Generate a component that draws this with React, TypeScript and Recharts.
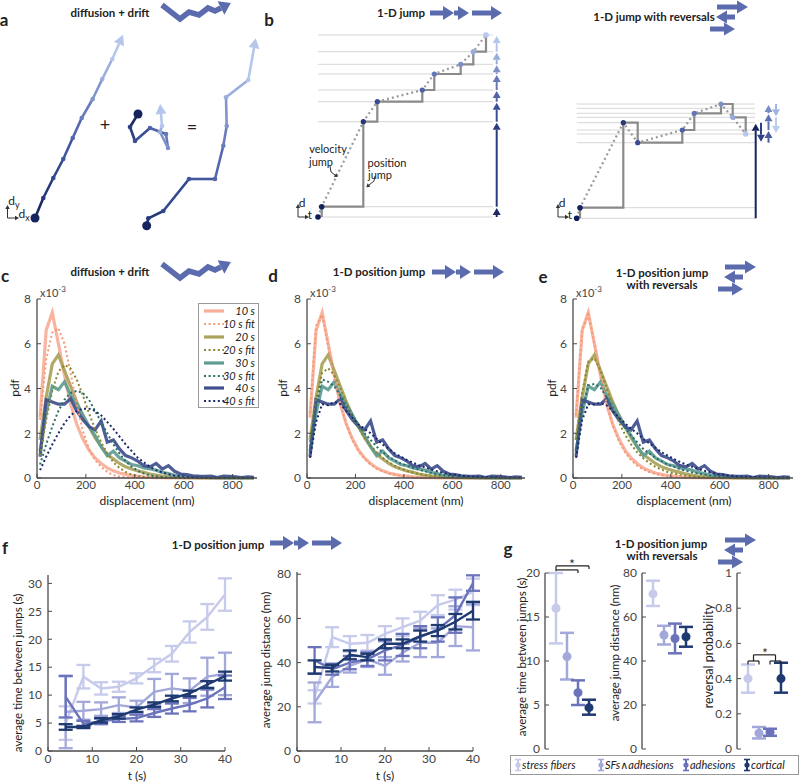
import React from 'react';
import { LineChart, Line, XAxis, YAxis, ErrorBar, ScatterChart, Scatter, ReferenceLine } from 'recharts';

const FONT = 'Lato, "Open Sans", "DejaVu Sans", sans-serif';

// ---------------- panel c/d/e : displacement pdf (x1e-3) ----------------
const BINS = [12.5, 37.5, 62.5, 87.5, 112.5, 137.5, 162.5, 187.5, 212.5, 237.5, 262.5, 287.5, 312.5, 337.5, 362.5, 387.5, 412.5, 437.5, 462.5, 487.5, 512.5, 537.5, 562.5, 587.5, 612.5, 637.5, 662.5, 687.5, 712.5, 737.5, 762.5, 787.5, 812.5, 837.5, 862.5, 887.5];
const S10 = [2.7, 6.6, 7.4, 6.0, 4.6, 3.3, 2.4, 1.75, 1.25, 0.9, 0.65, 0.45, 0.32, 0.22, 0.16, 0.11, 0.08, 0.05, 0.03, 0.02, 0.02, 0.01, 0.01, 0.01, 0, 0, 0, 0, 0, 0, 0, 0, 0, 0, 0, 0];
const S20 = [1.7, 3.6, 5.1, 5.5, 4.8, 4.1, 3.4, 2.8, 2.3, 1.8, 1.4, 1.05, 0.85, 0.65, 0.5, 0.4, 0.32, 0.25, 0.18, 0.13, 0.09, 0.06, 0.04, 0.03, 0.02, 0.02, 0.01, 0.01, 0.01, 0, 0, 0, 0, 0, 0, 0];
const S30 = [1.2, 2.9, 4.1, 3.95, 4.3, 3.7, 3.3, 2.8, 2.3, 1.9, 1.4, 1.0, 1.2, 0.9, 0.75, 0.6, 0.55, 0.45, 0.4, 0.35, 0.25, 0.2, 0.12, 0.1, 0.06, 0.05, 0.03, 0.03, 0.02, 0.02, 0.01, 0.01, 0.01, 0, 0, 0];
const S40 = [0.95, 3.5, 3.4, 3.3, 3.3, 3.55, 3.0, 2.6, 2.3, 2.15, 2.55, 1.6, 1.7, 1.3, 1.0, 0.9, 0.75, 0.55, 0.5, 0.65, 0.4, 0.55, 0.3, 0.18, 0.15, 0.1, 0.08, 0.07, 0.08, 0.02, 0.08, 0.07, 0.05, 0.02, 0.05, 0.03];

const CF10 = [2.6, 5.3, 6.5, 6.7, 6.0, 4.7, 3.3, 2.1, 1.3, 0.8, 0.5, 0.27, 0.13, 0.06, 0.03, 0.01, 0, 0, 0, 0, 0, 0, 0, 0, 0, 0, 0, 0, 0, 0, 0, 0, 0, 0, 0, 0];
const CF20 = [1.0, 2.6, 3.9, 4.75, 5.05, 4.9, 4.4, 3.7, 2.9, 2.2, 1.6, 1.1, 0.7, 0.45, 0.27, 0.15, 0.08, 0.04, 0.02, 0.01, 0, 0, 0, 0, 0, 0, 0, 0, 0, 0, 0, 0, 0, 0, 0, 0];
const CF30 = [0.6, 1.5, 2.3, 3.0, 3.5, 3.8, 3.9, 3.8, 3.5, 3.0, 2.5, 2.0, 1.5, 1.1, 0.75, 0.5, 0.32, 0.2, 0.12, 0.07, 0.04, 0.02, 0.01, 0, 0, 0, 0, 0, 0, 0, 0, 0, 0, 0, 0, 0];
const CF40 = [0.35, 0.95, 1.5, 2.0, 2.45, 2.8, 3.0, 3.1, 3.1, 3.0, 2.8, 2.5, 2.2, 1.85, 1.5, 1.2, 0.9, 0.7, 0.5, 0.35, 0.25, 0.17, 0.1, 0.07, 0.04, 0.02, 0.01, 0, 0, 0, 0, 0, 0, 0, 0, 0];

const DF10 = [2.9, 6.8, 7.3, 5.9, 4.5, 3.3, 2.4, 1.7, 1.2, 0.85, 0.6, 0.42, 0.3, 0.2, 0.14, 0.1, 0.07, 0.05, 0.03, 0.02, 0.01, 0.01, 0, 0, 0, 0, 0, 0, 0, 0, 0, 0, 0, 0, 0, 0];
const DF20 = [1.6, 3.5, 4.7, 4.9, 4.6, 4.0, 3.35, 2.75, 2.25, 1.8, 1.45, 1.15, 0.9, 0.7, 0.55, 0.42, 0.32, 0.25, 0.18, 0.13, 0.1, 0.07, 0.05, 0.03, 0.02, 0.01, 0.01, 0, 0, 0, 0, 0, 0, 0, 0, 0];
const DF30 = [1.4, 3.2, 4.4, 4.3, 4.1, 3.7, 3.2, 2.8, 2.4, 2.0, 1.7, 1.4, 1.15, 0.95, 0.8, 0.65, 0.55, 0.45, 0.37, 0.3, 0.23, 0.17, 0.13, 0.1, 0.07, 0.05, 0.04, 0.03, 0.02, 0.01, 0.01, 0, 0, 0, 0, 0];
const DF40 = [0.9, 2.5, 3.3, 3.25, 3.4, 3.3, 3.0, 2.7, 2.4, 2.2, 2.0, 1.75, 1.5, 1.3, 1.1, 0.95, 0.8, 0.68, 0.57, 0.47, 0.38, 0.3, 0.23, 0.18, 0.14, 0.11, 0.08, 0.06, 0.05, 0.04, 0.03, 0.03, 0.02, 0.02, 0.01, 0.01];

const EF10 = [2.8, 6.6, 7.3, 6.0, 4.6, 3.3, 2.35, 1.65, 1.15, 0.8, 0.55, 0.38, 0.26, 0.18, 0.12, 0.08, 0.05, 0.03, 0.02, 0.01, 0, 0, 0, 0, 0, 0, 0, 0, 0, 0, 0, 0, 0, 0, 0, 0];
const EF20 = [1.7, 3.8, 5.2, 5.35, 4.8, 4.0, 3.2, 2.5, 1.95, 1.5, 1.15, 0.88, 0.66, 0.5, 0.37, 0.27, 0.2, 0.14, 0.1, 0.07, 0.05, 0.03, 0.02, 0.01, 0, 0, 0, 0, 0, 0, 0, 0, 0, 0, 0, 0];
const EF30 = [1.3, 3.0, 4.15, 4.2, 4.05, 3.6, 3.1, 2.65, 2.25, 1.9, 1.6, 1.3, 1.1, 0.9, 0.75, 0.6, 0.5, 0.4, 0.32, 0.25, 0.2, 0.15, 0.11, 0.08, 0.06, 0.04, 0.03, 0.02, 0.01, 0, 0, 0, 0, 0, 0, 0];
const EF40 = [0.9, 2.6, 3.3, 3.3, 3.35, 3.25, 3.0, 2.7, 2.45, 2.2, 2.0, 1.75, 1.55, 1.35, 1.15, 1.0, 0.85, 0.72, 0.6, 0.5, 0.4, 0.32, 0.25, 0.19, 0.15, 0.11, 0.08, 0.06, 0.05, 0.04, 0.03, 0.02, 0.02, 0.01, 0.01, 0.01];

const PDF_X_TICKS = [0, 200, 400, 600, 800];
const PDF_Y_TICKS = [0, 2, 4, 6, 8];

const DATA_SERIES = [
  { k: 's10', label: '10 s', c: '#F8AE98' },
  { k: 's20', label: '20 s', c: '#A9A35B' },
  { k: 's30', label: '30 s', c: '#5F9C92' },
  { k: 's40', label: '40 s', c: '#3F4F8D' },
];
const FIT_SERIES = [
  { k: 'f10', label: '10 s fit', c: '#F59A78' },
  { k: 'f20', label: '20 s fit', c: '#8C872E' },
  { k: 'f30', label: '30 s fit', c: '#2B6F67' },
  { k: 'f40', label: '40 s fit', c: '#1A2A6A' },
];

// ---------------- panel f ----------------
const T = [4, 8, 12, 16, 20, 24, 28, 32, 36, 40];
const SF_T = [5.0, 13.3, 11.2, 11.5, 13.0, 15.3, 17.4, 21.3, 24.0, 28.0];
const SF_TE = [3.0, 2.1, 1.1, 0.9, 0.9, 1.2, 1.4, 1.9, 2.3, 2.9];
const SA_T = [7.0, 7.2, 7.5, 8.2, 7.8, 10.6, 11.2, 10.8, 13.3, 13.8];
const SA_TE = [6.5, 1.6, 1.2, 1.4, 1.2, 2.3, 2.6, 2.2, 3.4, 3.8];
const AD_T = [9.7, 4.9, 5.3, 5.7, 5.9, 6.8, 7.6, 8.3, 9.4, 11.4];
const AD_TE = [3.7, 0.5, 0.5, 0.5, 0.6, 0.7, 0.9, 1.2, 1.6, 2.1];
const CO_T = [4.3, 4.3, 5.5, 6.2, 7.4, 8.3, 9.4, 10.3, 11.9, 13.4];
const CO_TE = [0.5, 0.2, 0.4, 0.4, 0.4, 0.4, 0.5, 0.5, 0.6, 0.8];

const SF_D = [24.5, 51.5, 48.5, 49, 53, 56, 59, 66, 68.5, 72];
const SF_DE = [3, 4.5, 3.5, 3.5, 3.5, 4, 4, 4.5, 4.5, 6];
const SA_D = [22, 33.5, 38.5, 41.5, 38.5, 44.5, 49, 49, 56.5, 56];
const SA_DE = [9, 4.5, 3, 3.5, 4, 4, 6.5, 6.5, 9, 10.5];
const AD_D = [41, 37, 40, 41.5, 45.5, 48, 51.5, 55, 61.5, 76];
const AD_DE = [6, 2.5, 3, 3, 4.5, 5, 5, 5.5, 8, 3.5];
const CO_D = [38, 37.5, 43.5, 42.5, 48.5, 48.5, 52, 54.5, 58.5, 63.5];
const CO_DE = [3, 1.5, 2, 1.5, 2, 2, 2.5, 2.5, 3.5, 4];

// ---------------- panel g ----------------
const GROUPS = ['stress fibers', 'SFs\u2227adhesions', 'adhesions', 'cortical'];
const GCOL = ['#C6CAEB', '#A3A8DA', '#6B74BB', '#1E3A70'];
const G_TIME = [16, 10.5, 6.4, 4.7];
const G_TIME_E = [[4, 4], [2.6, 2.7], [1.4, 1.4], [0.8, 0.9]];
const G_DIST = [70.5, 51.8, 50.2, 51];
const G_DIST_E = [[5.5, 6], [4.3, 4.2], [6.7, 6.8], [4.5, 4.5]];
const G_REV = [0.4, 0.09, 0.095, 0.4];
const G_REV_E = [[0.08, 0.08], [0.03, 0.035], [0.02, 0.02], [0.08, 0.09]];

// ---------------- schematics (panels a, b) ----------------
const NAVY = '#15245E';
const GRAD9 = ['#1B2A63', '#26387A', '#33478E', '#42569E', '#5466AC', '#6A7CBC', '#8294CB', '#9BADDB', '#B5C6EC'];
const GRAD8 = ['#1B2A63', '#2A3C80', '#3C4F96', '#5062A8', '#6678B8', '#7F91C9', '#9AACDA', '#B5C6EC'];
const A_DRIFT = [[35, 218], [43.3, 198], [53.3, 178], [63.3, 159], [72.7, 138], [81.7, 118], [92.7, 99], [102.3, 79], [112.3, 59], [119, 44]];
const A_WALK = [[138, 114], [130, 127], [135, 141], [150, 128], [166, 134], [168, 148], [160, 132], [162, 126], [161, 114]];
const A_SUM = [[146.7, 225.7], [148.3, 218.3], [163.3, 211], [189, 179], [215, 179], [223.3, 145.7], [226.7, 126], [226, 97.3], [248.3, 80], [254, 48]];

const BL_LEVELS = [35, 51.7, 64.3, 74, 90, 101.7, 121.7, 206.7, 217];
const BL_STAIR = [[321.7, 217], [321.7, 206.7], [363.3, 206.7], [363.3, 121.7], [377.3, 121.7], [377.3, 101.7], [422.3, 101.7], [422.3, 90], [434.3, 90], [434.3, 74], [460.7, 74], [460.7, 64.3], [473.3, 64.3], [473.3, 51.7], [486, 51.7], [486, 35]];
const BL_VEL = [[318, 217], [321.7, 206.7], [363.3, 121.7], [377.3, 101.7], [422.3, 90], [434.3, 74], [460.7, 64.3], [473.3, 51.7], [486, 35]];
const BL_COLUMN = [
  [[496.7, 217], [496.7, 215]], [[496.7, 206.7], [496.7, 129.7]], [[496.7, 121.7], [496.7, 109.7]], [[496.7, 101.7], [496.7, 98]],
  [[496.7, 90], [496.7, 82]], [[496.7, 74], [496.7, 72.3]], [[496.7, 64.3], [496.7, 59.7]], [[496.7, 51.7], [496.7, 43]],
];
const BR_LEVELS = [104, 108.3, 113.3, 117.3, 122.7, 130, 134, 142.7, 207.7, 218.3];
const BR_STAIR = [[580, 218.3], [580, 207.7], [623.3, 207.7], [623.3, 122.7], [637.7, 122.7], [637.7, 142.7], [682.3, 142.7], [682.3, 130], [694.3, 130], [694.3, 113.3], [721, 113.3], [721, 104], [732.7, 104], [732.7, 117.3], [745.7, 117.3], [745.7, 134]];
const BR_VEL = [[576.7, 218.3], [580, 207.7], [623.3, 122.7], [637.7, 142.7], [682.3, 130], [694.3, 113.3], [721, 104], [732.7, 117.3], [745.7, 134]];
const BR_COLUMN = [
  [[755.7, 218.3], [755.7, 130.7]], [[761, 122.7], [761, 134.7]], [[768.5, 142.7], [768.5, 138]], [[768.5, 130], [768.5, 121.3]],
  [[768.5, 113.3], [768.5, 112]], [[776, 104], [776, 109.3]], [[776, 117.3], [776, 126]],
];
const BR_COLS = ['#15245E', '#2F4185', '#4A5C9E', '#5F72B0', '#7A8CC4', '#A0B2E2', '#BCCBF0'];

// icons (local coordinates)
const ICON = '#5B6BAE';
const ZIG = [[2, 5], [20, 19], [29, 12], [39, 15], [48, 8], [55, 11], [61, 8]];
const TRIPLE = [[[2, 10], [15, 10]], [[26, 10], [30, 10]], [[44, 10], [63, 10]]];
const REVERSAL = [[[12, 7], [32, 7]], [[30, 17], [22, 17]], [[5, 29], [19, 29]]];

type P = { pts: number[][]; c: string; w?: number; dash?: string; head?: number[]; dc?: string[]; dr?: number[]; cap?: string };

const dotRenderer = (p: P) => (props: any) => {
  const { cx, cy, index } = props;
  const k = `d${index}`;
  if (cx == null || cy == null) return <g key={k} />;
  const n = p.pts.length;
  if (p.head && index === n - 1) {
    const [x0, y0] = p.pts[n - 2];
    const [x1, y1] = p.pts[n - 1];
    const len = Math.hypot(x1 - x0, y1 - y0) || 1;
    const ux = (x1 - x0) / len, uy = (y1 - y0) / len;
    const [L, W] = p.head;
    const pts = `${cx + ux * L},${cy + uy * L} ${cx - uy * W},${cy + ux * W} ${cx + uy * W},${cy - ux * W}`;
    return <polygon key={k} points={pts} fill={p.c} />;
  }
  if (p.dc && p.dc[index] && p.dr && p.dr[index]) {
    return <circle key={k} cx={cx} cy={cy} r={p.dr[index]} fill={p.dc[index]} />;
  }
  return <g key={k} />;
};

function Sketch({ left, top, width, height, paths }: { left: number; top: number; width: number; height: number; paths: P[] }) {
  return (
    <div style={{ position: 'absolute', left, top }}>
      <LineChart width={width} height={height} margin={{ top: 0, right: 0, bottom: 0, left: 0 }}>
        <XAxis type="number" dataKey="x" domain={[0, width]} hide />
        <YAxis type="number" domain={[0, height]} reversed hide />
        {paths.map((p, i) => (
          <Line
            key={i}
            data={p.pts.map(([x, y]) => ({ x, y }))}
            dataKey="y"
            type="linear"
            stroke={p.c}
            strokeWidth={p.w ?? 2}
            strokeDasharray={p.dash}
            strokeLinecap={(p.cap as any) ?? 'butt'}
            strokeLinejoin="miter"
            dot={dotRenderer(p)}
            activeDot={false}
            isAnimationActive={false}
            legendType="none"
          />
        ))}
      </LineChart>
    </div>
  );
}

const segPaths = (pts: number[][], cols: string[], w: number, startR: number): P[] =>
  pts.slice(0, -1).map((pt, k) => ({
    pts: [pt, pts[k + 1]],
    c: cols[k],
    w,
    head: k === pts.length - 2 ? [10, 5.5] : undefined,
    dc: [k === 0 ? NAVY : cols[k]],
    dr: [k === 0 ? startR : 2.3],
  }));

const TOP_PATHS: P[] = [
  ...segPaths(A_DRIFT, GRAD9, 2.6, 4.5),
  ...segPaths(A_WALK, GRAD8, 2.6, 4.5),
  ...segPaths(A_SUM, GRAD9, 2.6, 4.5),
  { pts: [[7.5, 218], [7.5, 209]], c: '#333', w: 1, head: [4, 2.2] },
  { pts: [[7.5, 218], [15, 218]], c: '#333', w: 1, head: [4, 2.2] },
  ...BL_LEVELS.map((y) => ({ pts: [[318, y], [493, y]], c: '#D6D6D6', w: 1 })),
  { pts: BL_STAIR, c: '#8A8A8A', w: 2.2 },
  { pts: BL_VEL, c: '#9A9A9A', w: 2.2, dash: '2 3', dc: ['#0E1D58', NAVY, '#26387A', '#3A4C95', '#4E60A6', '#6476B8', '#7C8ECA', '#99ABDD', '#B9C8F0'], dr: [2.8, 2.8, 2.6, 2.6, 2.6, 2.6, 2.6, 2.6, 2.8] },
  ...BL_COLUMN.map((pts, i) => ({ pts, c: GRAD8[i], w: 2, head: [7, 4] })),
  { pts: [[298, 217], [298, 208]], c: '#333', w: 1, head: [4, 2.2] },
  { pts: [[298, 217], [305, 217]], c: '#333', w: 1, head: [4, 2.2] },
  { pts: [[330, 166], [331, 172], [335, 175]], c: '#333', w: 1, head: [3.5, 2.2] },
  { pts: [[375, 176], [374, 181], [369, 185]], c: '#333', w: 1, head: [3.5, 2.2] },
  ...BR_LEVELS.map((y) => ({ pts: [[576.7, y], [755, y]], c: '#D6D6D6', w: 1 })),
  { pts: BR_STAIR, c: '#8A8A8A', w: 2.2 },
  { pts: BR_VEL, c: '#9A9A9A', w: 2.2, dash: '2 3', dc: ['#0E1D58', NAVY, '#26387A', '#3A4C95', '#4E60A6', '#6476B8', '#7C8ECA', '#99ABDD', '#B9C8F0'], dr: [2.8, 2.8, 2.6, 2.6, 2.6, 2.6, 2.6, 2.6, 2.8] },
  ...BR_COLUMN.map((pts, i) => ({ pts, c: BR_COLS[i], w: 2, head: [7, 4] })),
  { pts: [[558, 217], [558, 208]], c: '#333', w: 1, head: [4, 2.2] },
  { pts: [[558, 217], [565, 217]], c: '#333', w: 1, head: [4, 2.2] },
];

const zigPaths: P[] = [{ pts: ZIG, c: ICON, w: 5.5, head: [11, 7.5] }];
const triplePaths: P[] = TRIPLE.map((pts) => ({ pts, c: ICON, w: 5, head: [11, 7] }));
const reversalPaths: P[] = REVERSAL.map((pts) => ({ pts, c: ICON, w: 5, head: [11, 6.5] }));

// ---------------- shared axis styling ----------------
const AX = '#4A4A4A';
const tickStyle = { fill: '#444', fontSize: 11.5, fontFamily: FONT };
const xAxisProps = { axisLine: { stroke: AX, strokeWidth: 1.3 }, tickLine: { stroke: AX }, tick: tickStyle, tickSize: -4, tickMargin: 7 } as any;
const yAxisProps = { axisLine: { stroke: AX, strokeWidth: 1.3 }, tickLine: { stroke: AX }, tick: tickStyle, tickSize: -4, tickMargin: 10 } as any;

function PdfChart({ left, width, ml, mr, fits }: { left: number; width: number; ml: number; mr: number; fits: number[][] }) {
  const rows = BINS.map((x, i) => ({
    x, s10: S10[i], s20: S20[i], s30: S30[i], s40: S40[i],
    f10: fits[0][i], f20: fits[1][i], f30: fits[2][i], f40: fits[3][i],
  }));
  return (
    <div style={{ position: 'absolute', left, top: 280 }}>
      <LineChart width={width} height={240} data={rows} margin={{ top: 19, right: mr, bottom: 12, left: ml }}>
        <XAxis type="number" dataKey="x" domain={[0, 900]} ticks={PDF_X_TICKS} height={30} {...xAxisProps} />
        <YAxis type="number" domain={[0, 8]} ticks={PDF_Y_TICKS} width={27} {...yAxisProps} tick={{ ...tickStyle, fontSize: 12 }} />
        {DATA_SERIES.map((s) => (
          <Line key={s.k} dataKey={s.k} stroke={s.c} strokeWidth={3.2} strokeOpacity={0.92} dot={false} activeDot={false} isAnimationActive={false} type="linear" />
        ))}
        {FIT_SERIES.map((s) => (
          <Line key={s.k} dataKey={s.k} stroke={s.c} strokeWidth={2} strokeDasharray="2 2.6" dot={false} activeDot={false} isAnimationActive={false} type="linear" />
        ))}
      </LineChart>
    </div>
  );
}

const F_KEYS = [
  { k: 'sf', c: GCOL[0] },
  { k: 'sa', c: GCOL[1] },
  { k: 'ad', c: GCOL[2] },
  { k: 'co', c: GCOL[3] },
];

function FChart({ left, width, ml, mr, mt, domain, ticks, vals, errs }: any) {
  const rows = T.map((t, i) => ({
    t,
    sf: vals[0][i], sfE: errs[0][i],
    sa: vals[1][i], saE: errs[1][i],
    ad: vals[2][i], adE: errs[2][i],
    co: vals[3][i], coE: errs[3][i],
  }));
  return (
    <div style={{ position: 'absolute', left, top: 560 }}>
      <LineChart width={width} height={223} data={rows} margin={{ top: mt, right: mr, bottom: 7, left: ml }}>
        <XAxis type="number" dataKey="t" domain={[0, 40]} ticks={[0, 10, 20, 30, 40]} height={25} {...xAxisProps} tick={{ ...tickStyle, fontSize: 12 }} />
        <YAxis type="number" domain={domain} ticks={ticks} width={30} {...yAxisProps} tick={{ ...tickStyle, fontSize: 12 }} />
        {F_KEYS.map((s) => (
          <Line key={s.k} dataKey={s.k} stroke={s.c} strokeWidth={2.4} dot={false} activeDot={false} isAnimationActive={false} type="linear">
            <ErrorBar dataKey={`${s.k}E`} direction="y" width={7} strokeWidth={2.3} stroke={s.c} />
          </Line>
        ))}
      </LineChart>
    </div>
  );
}

function GChart({ left, width, ml, mr, domain, ticks, vals, errs, children }: any) {
  return (
    <div style={{ position: 'absolute', left, top: 560 }}>
      <ScatterChart width={width} height={200} margin={{ top: 13, right: mr, bottom: 11, left: ml }}>
        <XAxis type="number" dataKey="x" domain={[0, 5]} hide />
        <YAxis type="number" dataKey="y" domain={domain} ticks={ticks} width={30} {...yAxisProps} tickMargin={9} tick={{ ...tickStyle, fontSize: 12 }} />
        {GROUPS.map((g, i) => (
          <Scatter key={g} data={[{ x: i + 1, y: vals[i], e: errs[i] }]} fill={GCOL[i]} isAnimationActive={false}>
            <ErrorBar dataKey="e" direction="y" width={7} strokeWidth={2.5} stroke={GCOL[i]} />
          </Scatter>
        ))}
        {children}
      </ScatterChart>
    </div>
  );
}

const BR = { stroke: '#222', strokeWidth: 1.2, ifOverflow: 'visible' as const };

function Txt({ x, y, s = 12, b = false, i = false, r = false, c = '#222', children }: any) {
  return (
    <div style={{
      position: 'absolute', left: x, top: y,
      transform: `translate(-50%,-50%)${r ? ' rotate(-90deg)' : ''}`,
      fontFamily: FONT, fontSize: s, fontWeight: b ? 700 : 400, fontStyle: i ? 'italic' : 'normal',
      color: c, whiteSpace: 'nowrap', lineHeight: 1,
    }}>{children}</div>
  );
}

const X10 = () => <span>x10<sup style={{ fontSize: 8, verticalAlign: 'top', position: 'relative', top: -2 }}>-3</sup></span>;

function GLegendGlyph({ c }: { c: string }) {
  return (
    <svg width={8} height={14} style={{ position: 'absolute', left: 0, top: 2 }}>
      <line x1={4} y1={1} x2={4} y2={13} stroke={c} strokeWidth={2} />
      <line x1={1} y1={1.5} x2={7} y2={1.5} stroke={c} strokeWidth={1.6} />
      <line x1={1} y1={12.5} x2={7} y2={12.5} stroke={c} strokeWidth={1.6} />
      <circle cx={4} cy={7} r={2.6} fill={c} />
    </svg>
  );
}

export default function App() {
  const legItems = [DATA_SERIES[0], FIT_SERIES[0], DATA_SERIES[1], FIT_SERIES[1], DATA_SERIES[2], FIT_SERIES[2], DATA_SERIES[3], FIT_SERIES[3]];
  const gLeg = [{ x: 514, tx: 522 }, { x: 597, tx: 605 }, { x: 682, tx: 690 }, { x: 743, tx: 751 }];
  return (
    <div style={{ position: 'absolute', left: 0, top: 0, width: 800, height: 783, background: '#fff', overflow: 'hidden', fontFamily: FONT }}>
      {/* schematics */}
      <Sketch left={0} top={0} width={800} height={232} paths={TOP_PATHS} />
      <Sketch left={160} top={0} width={80} height={28} paths={zigPaths} />
      <Sketch left={428} top={3} width={80} height={22} paths={triplePaths} />
      <Sketch left={705} top={0} width={55} height={38} paths={reversalPaths} />
      <Sketch left={160} top={259} width={80} height={28} paths={zigPaths} />
      <Sketch left={430} top={262} width={80} height={22} paths={triplePaths} />
      <Sketch left={713} top={260} width={55} height={38} paths={reversalPaths} />
      <Sketch left={268} top={533} width={80} height={22} paths={triplePaths} />
      <Sketch left={713} top={533} width={55} height={38} paths={reversalPaths} />

      {/* pdf panels */}
      <PdfChart left={0} width={270} ml={10} mr={13} fits={[CF10, CF20, CF30, CF40]} />
      <PdfChart left={270} width={270} ml={10} mr={15} fits={[DF10, DF20, DF30, DF40]} />
      <PdfChart left={540} width={260} ml={6} mr={7} fits={[EF10, EF20, EF30, EF40]} />

      {/* legend c */}
      <div style={{ position: 'absolute', left: 198, top: 303, width: 59, height: 103, border: '1px solid #999', background: '#fff' }}>
        {legItems.map((e, i) => (
          <div key={e.k} style={{ position: 'absolute', left: 0, top: 1 + i * 12.9, width: 59, height: 13 }}>
            <svg width={22} height={12} style={{ position: 'absolute', left: 4, top: 0 }}>
              <line x1={1} y1={6} x2={21} y2={6} stroke={e.c} strokeWidth={e.k.startsWith('f') ? 2 : 3.2} strokeDasharray={e.k.startsWith('f') ? '2 2.6' : undefined} />
            </svg>
            <span style={{ position: 'absolute', right: 3, top: 0, fontSize: 11, fontStyle: 'italic', fontFamily: FONT, color: '#222', whiteSpace: 'nowrap', lineHeight: '12px' }}>{e.label}</span>
          </div>
        ))}
      </div>

      {/* panel f */}
      <FChart left={0} width={240} ml={18} mr={15} mt={15} domain={[0, 31.5]} ticks={[0, 5, 10, 15, 20, 25, 30]}
        vals={[SF_T, SA_T, AD_T, CO_T]} errs={[SF_TE, SA_TE, AD_TE, CO_TE]} />
      <FChart left={260} width={230} ml={7} mr={17} mt={12} domain={[0, 81]} ticks={[0, 20, 40, 60, 80]}
        vals={[SF_D, SA_D, AD_D, CO_D]} errs={[SF_DE, SA_DE, AD_DE, CO_DE]} />

      {/* panel g */}
      <GChart left={500} width={105} ml={15} mr={5} domain={[0, 20]} ticks={[0, 5, 10, 15, 20]} vals={G_TIME} errs={G_TIME_E}>
        <ReferenceLine segment={[{ x: 1, y: 20.8 }, { x: 4, y: 20.8 }]} {...BR} />
        <ReferenceLine segment={[{ x: 4, y: 20.8 }, { x: 4, y: 20.45 }]} {...BR} />
        <ReferenceLine segment={[{ x: 1, y: 20.8 }, { x: 1, y: 20.2 }]} {...BR} />
        <ReferenceLine segment={[{ x: 1, y: 20.35 }, { x: 3, y: 20.35 }]} {...BR} />
        <ReferenceLine segment={[{ x: 3, y: 20.35 }, { x: 3, y: 20.0 }]} {...BR} />
      </GChart>
      <GChart left={605} width={95} ml={7} mr={3} domain={[0, 80]} ticks={[0, 20, 40, 60, 80]} vals={G_DIST} errs={G_DIST_E} />
      <GChart left={700} width={100} ml={7} mr={8} domain={[0, 1]} ticks={[0, 0.2, 0.4, 0.6, 0.8, 1]} vals={G_REV} errs={G_REV_E}>
        <ReferenceLine segment={[{ x: 1, y: 0.5 }, { x: 2, y: 0.5 }]} {...BR} />
        <ReferenceLine segment={[{ x: 1, y: 0.5 }, { x: 1, y: 0.48 }]} {...BR} />
        <ReferenceLine segment={[{ x: 2, y: 0.5 }, { x: 2, y: 0.48 }]} {...BR} />
        <ReferenceLine segment={[{ x: 3, y: 0.5 }, { x: 4, y: 0.5 }]} {...BR} />
        <ReferenceLine segment={[{ x: 3, y: 0.5 }, { x: 3, y: 0.48 }]} {...BR} />
        <ReferenceLine segment={[{ x: 4, y: 0.5 }, { x: 4, y: 0.48 }]} {...BR} />
        <ReferenceLine segment={[{ x: 1.5, y: 0.535 }, { x: 3.5, y: 0.535 }]} {...BR} />
        <ReferenceLine segment={[{ x: 1.5, y: 0.535 }, { x: 1.5, y: 0.5 }]} {...BR} />
        <ReferenceLine segment={[{ x: 3.5, y: 0.535 }, { x: 3.5, y: 0.5 }]} {...BR} />
      </GChart>

      {/* legend g */}
      <div style={{ position: 'absolute', left: 510, top: 755, width: 287, height: 18, border: '1px solid #999', background: '#fff' }} />
      {GROUPS.map((g, i) => (
        <div key={g} style={{ position: 'absolute', left: gLeg[i].x, top: 756, height: 18 }}>
          <GLegendGlyph c={GCOL[i]} />
          <span style={{ position: 'absolute', left: gLeg[i].tx - gLeg[i].x, top: 2, fontSize: 11, fontStyle: 'italic', fontFamily: FONT, color: '#222', whiteSpace: 'nowrap', lineHeight: '14px' }}>{g}</span>
        </div>
      ))}

      {/* panel letters */}
      <Txt x={4} y={19} s={17} b>a</Txt>
      <Txt x={269} y={19} s={17} b>b</Txt>
      <Txt x={5} y={275} s={17} b>c</Txt>
      <Txt x={273} y={275} s={17} b>d</Txt>
      <Txt x={543} y={276} s={17} b>e</Txt>
      <Txt x={5} y={547} s={17} b>f</Txt>
      <Txt x={508} y={548} s={17} b>g</Txt>

      {/* titles */}
      <Txt x={110} y={13} s={11.5} b>diffusion + drift</Txt>
      <Txt x={401} y={13} s={11.5} b>1-D jump</Txt>
      <Txt x={654} y={17} s={11.5} b>1-D jump with reversals</Txt>
      <Txt x={110} y={272} s={11.5} b>diffusion + drift</Txt>
      <Txt x={379} y={272} s={11.5} b>1-D position jump</Txt>
      <Txt x={662} y={273} s={11.5} b>1-D position jump</Txt>
      <Txt x={662} y={285} s={11.5} b>with reversals</Txt>
      <Txt x={218} y={545} s={11.5} b>1-D position jump</Txt>
      <Txt x={661} y={544} s={11.5} b>1-D position jump</Txt>
      <Txt x={662} y={556} s={11.5} b>with reversals</Txt>

      {/* schematic labels */}
      <Txt x={105} y={124} s={18}>+</Txt>
      <Txt x={192} y={126} s={18}>=</Txt>
      <Txt x={14} y={202} s={12}>d<sub style={{ fontSize: 9 }}>y</sub></Txt>
      <Txt x={24} y={215} s={12}>d<sub style={{ fontSize: 9 }}>x</sub></Txt>
      <Txt x={328} y={148} s={11}>velocity</Txt>
      <Txt x={321} y={161} s={11}>jump</Txt>
      <Txt x={387} y={162} s={11}>position</Txt>
      <Txt x={380} y={174} s={11}>jump</Txt>
      <Txt x={302} y={203} s={12}>d</Txt>
      <Txt x={310} y={215} s={12}>t</Txt>
      <Txt x={562} y={203} s={12}>d</Txt>
      <Txt x={570} y={215} s={12}>t</Txt>

      {/* axis titles c/d/e */}
      <Txt x={53} y={292} s={11} c="#444"><X10 /></Txt>
      <Txt x={323} y={292} s={11} c="#444"><X10 /></Txt>
      <Txt x={589} y={292} s={11} c="#444"><X10 /></Txt>
      <Txt x={15} y={388} s={12} r>pdf</Txt>
      <Txt x={283} y={388} s={12} r>pdf</Txt>
      <Txt x={552} y={388} s={12} r>pdf</Txt>
      <Txt x={147} y={501} s={12}>displacement (nm)</Txt>
      <Txt x={416} y={501} s={12}>displacement (nm)</Txt>
      <Txt x={684} y={501} s={12}>displacement (nm)</Txt>

      {/* axis titles f */}
      <Txt x={18} y={673} s={11.5} r>average time between jumps (s)</Txt>
      <Txt x={137} y={776} s={12}>t (s)</Txt>
      <Txt x={266} y={660} s={11.5} r>average jump distance (nm)</Txt>
      <Txt x={385} y={776} s={12}>t (s)</Txt>

      {/* axis titles g */}
      <Txt x={522} y={657} s={11.5} r>average time between jumps (s)</Txt>
      <Txt x={615} y={653} s={11.5} r>average jump distance (nm)</Txt>
      <Txt x={709} y={656} s={12.5} r>reversal probability</Txt>
      <Txt x={572} y={564} s={13}>*</Txt>
      <Txt x={765} y={653} s={13}>*</Txt>
    </div>
  );
}
